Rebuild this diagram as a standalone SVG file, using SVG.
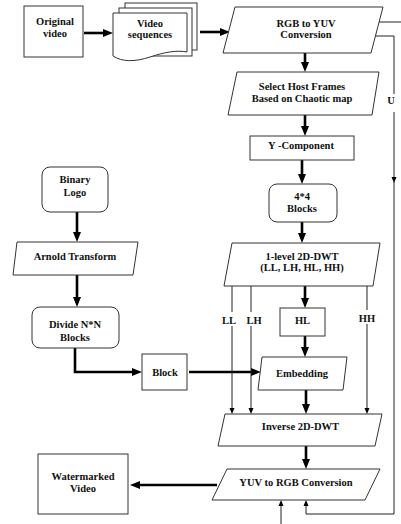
<svg xmlns="http://www.w3.org/2000/svg" width="401" height="524" viewBox="0 0 401 524">
<style>
.n{fill:#fff;stroke:#333;stroke-width:1}
.t{font-family:'Liberation Serif','DejaVu Serif',serif;font-weight:700;font-size:10.5px;fill:#111;text-anchor:middle}
.k{fill:none;stroke:#000;stroke-width:2.6}
.w{fill:none;stroke:#222;stroke-width:1}
</style>
<defs>
<marker id="ah" markerUnits="userSpaceOnUse" markerWidth="10" markerHeight="10" viewBox="0 0 10 10" refX="2" refY="5" orient="auto"><path d="M0,1 L10,5 L0,9 z" fill="#000"/></marker>
<marker id="as" markerUnits="userSpaceOnUse" markerWidth="7" markerHeight="6" viewBox="0 0 7 6" refX="1" refY="3" orient="auto"><path d="M0,0.5 L6,3 L0,5.5 z" fill="#000"/></marker>
</defs>
<rect width="401" height="524" fill="#fff"/>
<g id="connectors">
<path class="k" d="M84,33 H105" marker-end="url(#ah)"/>
<path class="k" d="M200,32 H222" marker-end="url(#ah)"/>
<path class="k" d="M305,53 V64" marker-end="url(#ah)"/>
<path class="k" d="M305,115 V128" marker-end="url(#ah)"/>
<path class="k" d="M302,160 V176" marker-end="url(#ah)"/>
<path class="k" d="M302,222 V235" marker-end="url(#ah)"/>
<path class="k" d="M305,286 V300" marker-end="url(#ah)"/>
<path class="k" d="M305,336 V349" marker-end="url(#ah)"/>
<path class="k" d="M306,390 V406" marker-end="url(#ah)"/>
<path class="k" d="M306,446 V461" marker-end="url(#ah)"/>
<path class="k" d="M217,485 H138" marker-end="url(#ah)"/>
<path class="k" d="M77,212 V234" marker-end="url(#ah)"/>
<path class="k" d="M77,275 V299" marker-end="url(#ah)"/>
<path class="k" d="M75,348 V372 H134" marker-end="url(#ah)"/>
<path class="k" d="M189,372 H253" marker-end="url(#ah)"/>
<path class="w" d="M232,286 V409" marker-end="url(#as)"/>
<path class="w" d="M251,286 V409" marker-end="url(#as)" stroke="#555"/>
<path class="w" d="M367,286 V409" marker-end="url(#as)" stroke="#555"/>
<path class="w" d="M379,22 H401"/>
<path class="w" d="M375,36 H394 V94"/>
<path class="w" d="M394,112 V178" marker-end="url(#as)"/>
<path class="w" d="M394,180 V514 H306 V505" marker-end="url(#as)"/>
<path class="w" d="M281,524 V505" marker-end="url(#as)"/>
<rect x="221" y="312" width="16" height="14" fill="#fff"/>
<rect x="246" y="312" width="17" height="14" fill="#fff"/>
<rect x="358" y="310" width="18" height="14" fill="#fff"/>
<text class="t" x="229" y="324">LL</text>
<text class="t" x="254" y="324">LH</text>
<text class="t" x="367" y="322">HH</text>
<text class="t" x="391" y="104">U</text>
</g>
<g id="original-video">
<rect class="n" x="24" y="6" width="59" height="51"/>
<text class="t" x="55" y="25">Original</text>
<text class="t" x="55" y="37">video</text>
</g>
<g id="video-sequences">
<rect class="n" x="125" y="3" width="72" height="47"/>
<rect class="n" x="119" y="8" width="73" height="48"/>
<path class="n" d="M113,13 H187 V52 C177,50 165,52 150,57 C135,62 122,62 113,56 Z"/>
<text class="t" x="150" y="27">Video</text>
<text class="t" x="150" y="38">sequences</text>
</g>
<g id="rgb-to-yuv">
<path class="n" d="M235,7 H383 L371,53 H223 Z"/>
<text class="t" x="306" y="26.5">RGB to YUV</text>
<text class="t" x="306" y="38">Conversion</text>
</g>
<g id="select-host">
<path class="n" d="M237,72 H379 L372,115 H228 Z"/>
<text class="t" x="302" y="89.5">Select Host Frames</text>
<text class="t" x="302" y="101.5">Based on Chaotic map</text>
</g>
<g id="y-component">
<rect class="n" x="250" y="136" width="104" height="24"/>
<text class="t" x="301" y="149">Y -Component</text>
</g>
<g id="blocks-4x4">
<rect class="n" x="269" y="184" width="68" height="38" rx="8"/>
<text class="t" x="302" y="200">4*4</text>
<text class="t" x="302" y="212">Blocks</text>
</g>
<g id="dwt">
<path class="n" d="M232,243 H380 L373,286 H224 Z"/>
<text class="t" x="302" y="259.5">1-level 2D-DWT</text>
<text class="t" x="302" y="271">(LL, LH, HL, HH)</text>
</g>
<g id="hl">
<rect class="n" x="280" y="308" width="45" height="28"/>
<text class="t" x="302.5" y="323.5">HL</text>
</g>
<g id="embedding">
<path class="n" d="M262,357 H347 L343,390 H258 Z"/>
<text class="t" x="302" y="377">Embedding</text>
</g>
<g id="block">
<rect class="n" x="142" y="354" width="45" height="36"/>
<text class="t" x="165" y="375.5">Block</text>
</g>
<g id="inverse-dwt">
<path class="n" d="M225,414 H382 L375,446 H218 Z"/>
<text class="t" x="300.5" y="429.5">Inverse 2D-DWT</text>
</g>
<g id="yuv-to-rgb">
<path class="n" d="M227,469 H380 L365,500 H212 Z"/>
<text class="t" x="296" y="485.5">YUV to RGB Conversion</text>
</g>
<g id="watermarked-video">
<rect class="n" x="38" y="454" width="90" height="60"/>
<text class="t" x="83" y="479.5">Watermarked</text>
<text class="t" x="83" y="491.5">Video</text>
</g>
<g id="binary-logo">
<rect class="n" x="42" y="167" width="66" height="45" rx="8"/>
<text class="t" x="75" y="182.5">Binary</text>
<text class="t" x="75" y="195.5">Logo</text>
</g>
<g id="arnold">
<path class="n" d="M17,242 H138 L133,275 H13 Z"/>
<text class="t" x="75" y="259.5">Arnold Transform</text>
</g>
<g id="divide">
<rect class="n" x="32" y="307" width="87" height="41" rx="8"/>
<text class="t" x="75" y="327.5">Divide N*N</text>
<text class="t" x="75" y="340.5">Blocks</text>
</g>
</svg>
